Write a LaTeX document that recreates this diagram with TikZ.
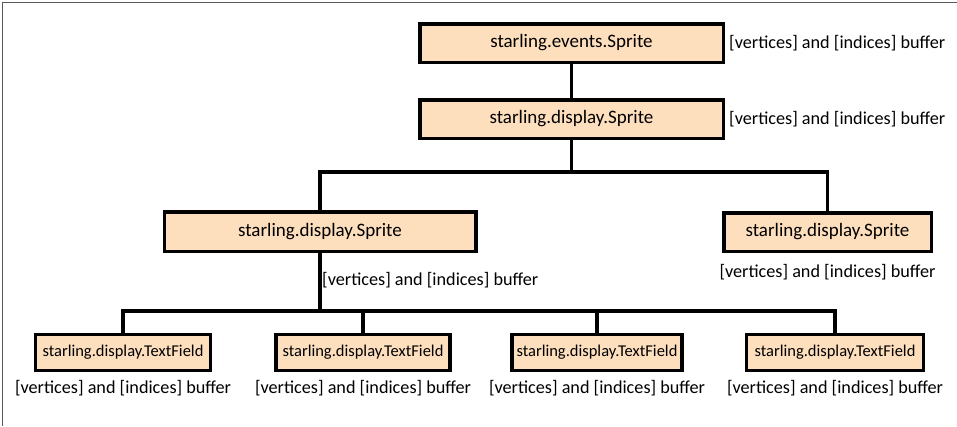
\documentclass[tikz,border=0pt]{standalone}
\usepackage{fontspec}
\setmainfont{Carlito}
\usetikzlibrary{positioning}

\definecolor{peach}{HTML}{FDDEBD}

\tikzset{
  cls/.style={draw=black, line width=3.5pt, fill=peach, inner sep=0pt,
    minimum height=38.5pt, font=\fontsize{19}{22}\selectfont},
  smallcls/.style={cls, minimum height=36pt, font=\fontsize{16.5}{19}\selectfont},
  buf/.style={inner sep=0pt, font=\fontsize{18.2}{21}\selectfont},
  wire/.style={line width=3.5pt}
}

\begin{document}
\begin{tikzpicture} [x=1pt, y=-1pt]

\useasboundingbox (0,0) rectangle (957,426);
\draw[black!65, line width=1pt] (2,426) -- (2,2) -- (957,2);

% upper chain
\node[cls, minimum width=303.5pt] (ev) at (571.5,43) {starling.events.Sprite};
\node[cls, minimum width=303.5pt] (disp) at (571.5,119) {starling.display.Sprite};
\node[buf, right=4pt of ev] (bufEv) {[vertices] and [indices] buffer};
\node[buf, right=4pt of disp] (bufDisp) {[vertices] and [indices] buffer};

\node[cls, minimum width=311.5pt, minimum height=39.5pt] (sprL) at (320,231.5) {starling.display.Sprite};
\node[cls, minimum width=207.5pt] (sprR) at (827.5,232) {starling.display.Sprite};
\node[buf, below=11pt of sprR] (bufR) {[vertices] and [indices] buffer};
\node[buf, below right=19pt and 2pt of sprL.south] (bufL) {[vertices] and [indices] buffer};

\coordinate (busA) at (571.5,172);
\coordinate (busB) at (320,311);

\draw[wire] (ev) -- (disp);
\draw[wire] (disp) -- (busA);
\draw[wire] (sprL.north) |- (busA);
\draw[wire] (sprR.north) |- (busA);
\draw[wire] (sprL) -- (busB);

% text fields
\foreach \i/\x/\w in {1/123/175, 2/363/174, 3/597/170, 4/835/177} {
  \node[smallcls, minimum width=\w pt] (tf\i) at (\x,352.5) {starling.display.TextField};
  \node[buf, below=8pt of tf\i] (bufTf\i) {[vertices] and [indices] buffer};
  \draw[wire] (tf\i.north) |- (busB);
};

\end{tikzpicture}
\end{document}
